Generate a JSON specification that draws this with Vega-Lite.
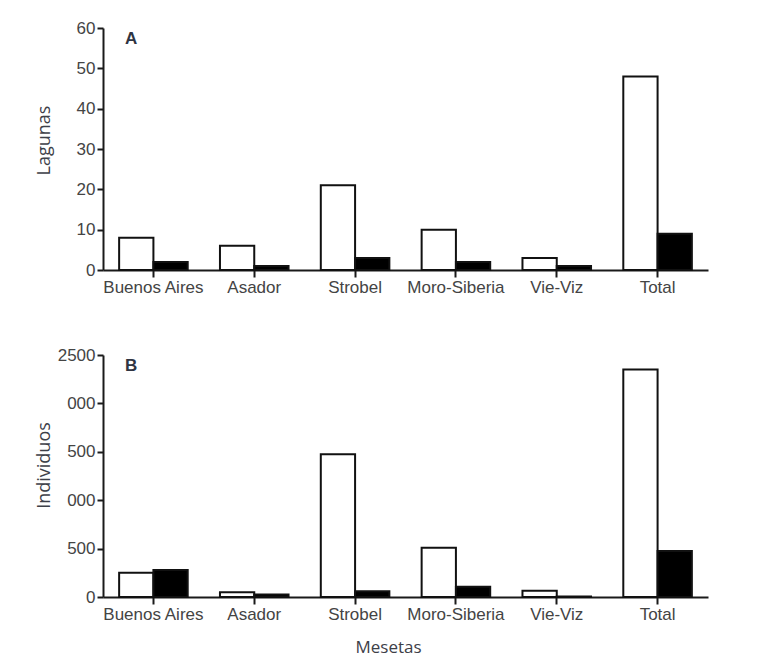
{
  "$schema": "https://vega.github.io/schema/vega-lite/v6.json",
  "padding": {"left": 35, "top": 19, "right": 5, "bottom": 0},
  "background": "white",
  "config": {
    "view": {"stroke": null},
    "font": "Liberation Sans",
    "axis": {
      "domainColor": "#1a1a1a",
      "domainWidth": 2,
      "tickColor": "#1a1a1a",
      "tickWidth": 2,
      "tickSize": 6,
      "labelColor": "#444444",
      "labelFont": "Liberation Sans",
      "labelFontSize": 17,
      "labelPadding": 2,
      "titleFont": "Open Sans",
      "titleFontWeight": "normal",
      "titleFontSize": 18,
      "titleColor": "#3d4048",
      "grid": false
    },
    "title": {
      "anchor": "start",
      "frame": "group",
      "baseline": "top",
      "dx": 22,
      "offset": -29,
      "fontSize": 17,
      "fontWeight": "bold",
      "color": "#2f3442",
      "font": "Liberation Sans"
    }
  },
  "data": {
    "values": [
      {"meseta": "Buenos Aires", "serie": "Serie 1", "lagunas": 8, "individuos": 250},
      {"meseta": "Buenos Aires", "serie": "Serie 2", "lagunas": 2, "individuos": 280},
      {"meseta": "Asador", "serie": "Serie 1", "lagunas": 6, "individuos": 50},
      {"meseta": "Asador", "serie": "Serie 2", "lagunas": 1, "individuos": 25},
      {"meseta": "Strobel", "serie": "Serie 1", "lagunas": 21, "individuos": 1475},
      {"meseta": "Strobel", "serie": "Serie 2", "lagunas": 3, "individuos": 60},
      {"meseta": "Moro-Siberia", "serie": "Serie 1", "lagunas": 10, "individuos": 510},
      {"meseta": "Moro-Siberia", "serie": "Serie 2", "lagunas": 2, "individuos": 105},
      {"meseta": "Vie-Viz", "serie": "Serie 1", "lagunas": 3, "individuos": 65},
      {"meseta": "Vie-Viz", "serie": "Serie 2", "lagunas": 1, "individuos": 5},
      {"meseta": "Total", "serie": "Serie 1", "lagunas": 48, "individuos": 2350},
      {"meseta": "Total", "serie": "Serie 2", "lagunas": 9, "individuos": 475}
    ]
  },
  "spacing": 85,
  "bounds": "flush",
  "vconcat": [
    {
      "width": 605,
      "height": 242,
      "title": {"text": "A"},
      "mark": {"type": "bar", "stroke": "#111111", "strokeWidth": 2},
      "encoding": {
        "x": {
          "field": "meseta",
          "type": "nominal",
          "sort": ["Buenos Aires", "Asador", "Strobel", "Moro-Siberia", "Vie-Viz", "Total"],
          "scale": {"paddingInner": 0.32, "paddingOuter": 0.16},
          "axis": {"title": null, "labelAngle": 0, "tickSize": 7}
        },
        "xOffset": {
          "field": "serie",
          "type": "nominal",
          "sort": ["Serie 1", "Serie 2"],
          "scale": {"paddingInner": 0, "paddingOuter": 0}
        },
        "y": {
          "field": "lagunas",
          "type": "quantitative",
          "scale": {"domain": [0, 60], "nice": false},
          "axis": {"values": [0, 10, 20, 30, 40, 50, 60], "title": "Lagunas", "titleX": -50, "titleY": 112}
        },
        "fill": {
          "field": "serie",
          "type": "nominal",
          "scale": {"domain": ["Serie 1", "Serie 2"], "range": ["#ffffff", "#000000"]},
          "legend": null
        }
      }
    },
    {
      "width": 605,
      "height": 242,
      "title": {"text": "B"},
      "mark": {"type": "bar", "stroke": "#111111", "strokeWidth": 2},
      "encoding": {
        "x": {
          "field": "meseta",
          "type": "nominal",
          "sort": ["Buenos Aires", "Asador", "Strobel", "Moro-Siberia", "Vie-Viz", "Total"],
          "scale": {"paddingInner": 0.32, "paddingOuter": 0.16},
          "axis": {"title": "Mesetas", "labelAngle": 0, "tickSize": 7, "titleX": 285, "titleY": 42, "titleBaseline": "top", "titleFontSize": 17}
        },
        "xOffset": {
          "field": "serie",
          "type": "nominal",
          "sort": ["Serie 1", "Serie 2"],
          "scale": {"paddingInner": 0, "paddingOuter": 0}
        },
        "y": {
          "field": "individuos",
          "type": "quantitative",
          "scale": {"domain": [0, 2500], "nice": false},
          "axis": {
            "values": [0, 500, 1000, 1500, 2000, 2500],
            "format": "d",
            "labelExpr": "datum.value == 2000 || datum.value == 1000 ? '000' : (datum.value == 1500 ? '500' : datum.label)",
            "title": "Individuos",
            "titleX": -50,
            "titleY": 110
          }
        },
        "fill": {
          "field": "serie",
          "type": "nominal",
          "scale": {"domain": ["Serie 1", "Serie 2"], "range": ["#ffffff", "#000000"]},
          "legend": null
        }
      }
    }
  ]
}
